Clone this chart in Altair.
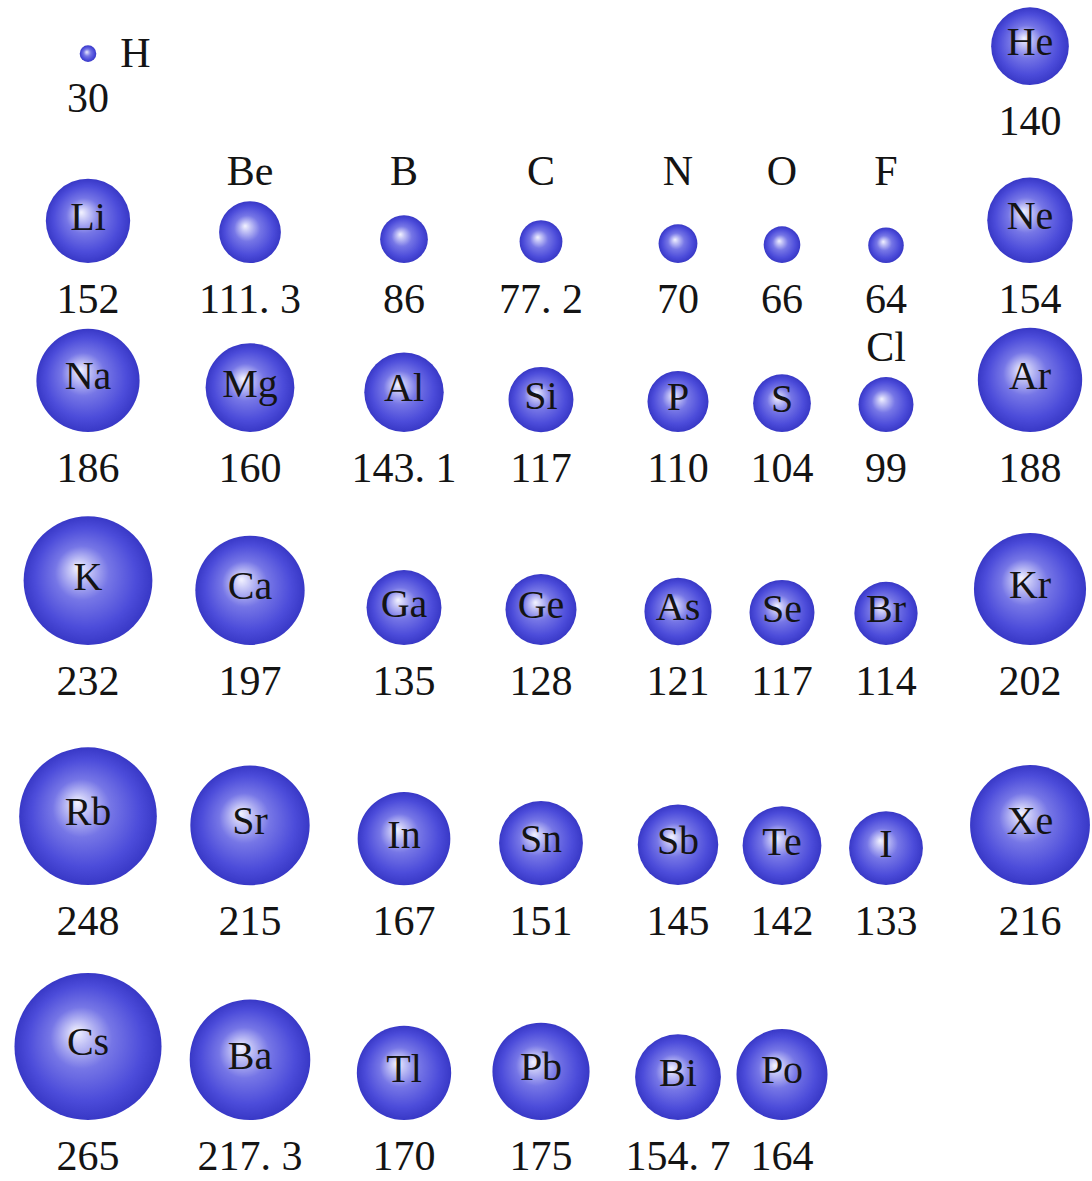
import altair as alt
import pandas as pd

# ---- data: atomic radii (pm), main-group elements, periods 1-6 ----
SYMBOLS = [
    "H", "He",
    "Li", "Be", "B", "C", "N", "O", "F", "Ne",
    "Na", "Mg", "Al", "Si", "P", "S", "Cl", "Ar",
    "K", "Ca", "Ga", "Ge", "As", "Se", "Br", "Kr",
    "Rb", "Sr", "In", "Sn", "Sb", "Te", "I", "Xe",
    "Cs", "Ba", "Tl", "Pb", "Bi", "Po",
]
RADII_PM = [
    30, 140,
    152, 111.3, 86, 77.2, 70, 66, 64, 154,
    186, 160, 143.1, 117, 110, 104, 99, 188,
    232, 197, 135, 128, 121, 117, 114, 202,
    248, 215, 167, 151, 145, 142, 133, 216,
    265, 217.3, 170, 175, 154.7, 164,
]
PERIODS = [1, 1] + [2] * 8 + [3] * 8 + [4] * 8 + [5] * 8 + [6] * 6
GROUPS = (
    [1, 18]
    + [1, 2, 13, 14, 15, 16, 17, 18] * 4
    + [1, 2, 13, 14, 15, 16]
)
# where each symbol is written relative to its ball
SYMBOL_PLACEMENT = {"H": "right", "Be": "above", "B": "above", "C": "above",
                    "N": "above", "O": "above", "F": "above", "Cl": "above"}

# ---- layout ----
W, H = 1092, 1181
PX_PER_PM = 0.555                      # ball diameter in px per pm of radius
R_MAX = 265
COLUMN_X = {1: 88, 2: 250, 13: 404, 14: 541, 15: 678, 16: 782, 17: 886, 18: 1030}
ROW_BASELINE = {1: 85, 2: 263, 3: 432, 4: 645, 5: 885, 6: 1120}
SIDE_LABEL_LIFT = 23
VALUE_GAP = 50
ABOVE_GAP = 16
SERIF = "Liberation Serif"
INK = "#141414"

df = pd.DataFrame({"symbol": SYMBOLS, "radius": RADII_PM,
                   "period": PERIODS, "group": GROUPS})
df["placement"] = df["symbol"].map(SYMBOL_PLACEMENT).fillna("inside")
df["value_text"] = df["radius"].map(lambda v: f"{v:g}".replace(".", ". "))
df["diam"] = df["radius"] * PX_PER_PM
df["x"] = df["group"].map(COLUMN_X)
df["bottom"] = df["period"].map(ROW_BASELINE) - (df["placement"] == "right") * SIDE_LABEL_LIFT
df["cy"] = df["bottom"] - df["diam"] / 2
df["value_y"] = df["bottom"] + VALUE_GAP
# labels written above sit on one line per row, clear of the tallest labelled ball
tallest = df[df["placement"] == "above"].groupby("period")["diam"].max()
df["above_y"] = df["period"].map(ROW_BASELINE) - df["period"].map(tallest).fillna(0) - ABOVE_GAP
df["side_x"] = df["x"] + df["diam"] / 2 + 24

xs = alt.Scale(domain=[0, W], nice=False, zero=False)
ys = alt.Scale(domain=[0, H], nice=False, zero=False, reverse=True)

sphere = alt.RadialGradient(
    gradient="radial",
    x1=0.42, y1=0.40, r1=0.0,
    x2=0.5, y2=0.5, r2=0.5,
    stops=[
        alt.GradientStop(offset=0.0, color="#f4f4ff"),
        alt.GradientStop(offset=0.14, color="#c8c8f7"),
        alt.GradientStop(offset=0.42, color="#7676e6"),
        alt.GradientStop(offset=0.78, color="#4c4cda"),
        alt.GradientStop(offset=1.0, color="#3838c6"),
    ],
)

base = alt.Chart(df)

balls = base.mark_circle(fill=sphere, opacity=1, strokeWidth=0).encode(
    x=alt.X("x:Q", scale=xs, axis=None),
    y=alt.Y("cy:Q", scale=ys, axis=None),
    size=alt.Size("radius:Q", legend=None,
                  scale=alt.Scale(type="pow", exponent=2, domain=[0, R_MAX],
                                  range=[0, (R_MAX * PX_PER_PM) ** 2])),
)

inside = base.transform_filter(alt.datum.placement == "inside").mark_text(
    font=SERIF, fontSize=40, color=INK, baseline="middle", align="center", dy=-3
).encode(x=alt.X("x:Q", scale=xs), y=alt.Y("cy:Q", scale=ys), text="symbol:N")

above = base.transform_filter(alt.datum.placement == "above").mark_text(
    font=SERIF, fontSize=42, color=INK, baseline="alphabetic", align="center"
).encode(x=alt.X("x:Q", scale=xs), y=alt.Y("above_y:Q", scale=ys), text="symbol:N")

side = base.transform_filter(alt.datum.placement == "right").mark_text(
    font=SERIF, fontSize=42, color=INK, baseline="middle", align="left"
).encode(x=alt.X("side_x:Q", scale=xs), y=alt.Y("cy:Q", scale=ys), text="symbol:N")

values = base.mark_text(
    font=SERIF, fontSize=42, color=INK, baseline="alphabetic", align="center"
).encode(x=alt.X("x:Q", scale=xs), y=alt.Y("value_y:Q", scale=ys), text="value_text:N")

chart = (
    alt.layer(balls, inside, above, side, values)
    .properties(width=W, height=H, autosize=alt.AutoSizeParams(type="none"), padding=0,
                background="white")
    .configure_view(stroke=None)
)

chart.save("out.html", embed_options={"renderer": "svg", "actions": False})
